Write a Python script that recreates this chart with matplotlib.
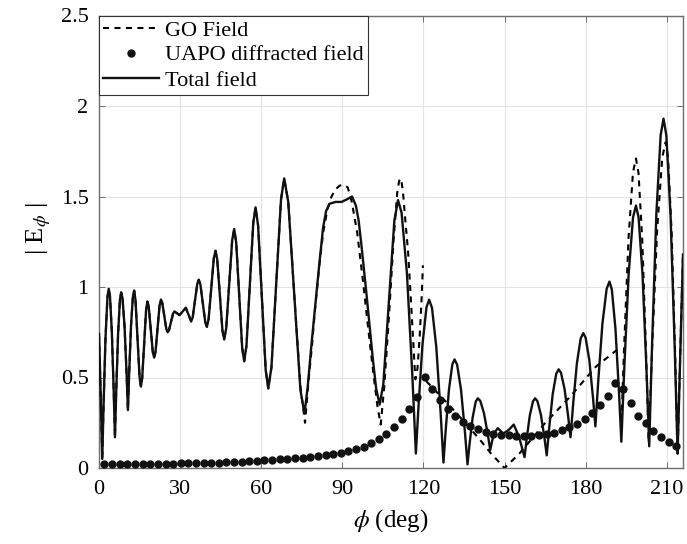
import numpy as np
import matplotlib
matplotlib.use("Agg")
import matplotlib.pyplot as plt
from matplotlib.lines import Line2D

plt.rcParams['font.family'] = ['Liberation Serif', 'DejaVu Serif']
plt.rcParams['mathtext.fontset'] = 'stix'

# ---------------- data ----------------
tot_x = [0.0, 0.6, 1.2, 1.68, 2.4, 3.12, 3.6, 4.06, 4.75, 5.44, 5.9, 6.36, 7.05, 7.74, 8.2,
         8.7, 9.45, 10.2, 10.7, 11.16, 11.85, 12.54, 13.0, 13.5, 14.25, 15.0, 15.5,
         15.98, 16.7, 17.42, 17.9, 18.4, 19.15, 19.9, 20.4, 20.9, 21.65, 22.4, 22.9,
         23.4, 24.15, 24.9, 25.4, 25.9, 26.65, 27.4, 27.9, 28.85, 29.8, 30.95, 32.1,
         33.1, 34.1, 34.66, 35.5, 36.34, 36.9, 37.5, 38.4, 39.3, 39.9, 40.54, 41.5,
         42.46, 43.1, 43.74, 44.7, 45.66, 46.3, 47.04, 48.15, 49.26, 50.0, 50.74,
         51.85, 52.96, 53.7, 54.54, 55.8, 57.06, 57.9, 58.84, 60.25, 61.66, 62.6,
         63.78, 65.55, 67.32, 68.5, 70.0, 72.25, 74.5, 76.0, 77.2, 78.5, 79.8, 81.5,
         82.9, 84.0, 85.3, 87.5, 89.7, 91.8, 93.6, 95.0, 96.0, 97.0, 98.9, 100.2,
         101.3, 102.5, 103.8, 105.16, 107.2, 109.24, 110.6, 111.92, 113.9, 115.88,
         117.2, 118.18, 119.65, 121.12, 122.1, 123.16, 124.75, 126.34, 127.4,
         128.22, 129.45, 130.68, 131.5, 132.46, 133.9, 135.34, 136.3, 137.06, 138.2,
         139.34, 140.1, 141.02, 142.4, 143.78, 144.7, 146.0, 147.5, 149.5, 151.5,
         153.4, 155.4, 157.4, 158.18, 159.35, 160.52, 161.3, 162.16, 163.45, 164.74,
         165.6, 166.48, 167.8, 169.12, 170.0, 170.88, 172.2, 173.52, 174.4, 175.34,
         176.75, 178.16, 179.1, 180.0, 181.35, 182.7, 183.6, 184.64, 186.2, 187.76,
         188.8, 189.68, 191.0, 192.32, 193.2, 194.28, 195.9, 197.52, 198.6, 199.58,
         201.05, 202.52, 203.5, 204.56, 206.15, 207.74, 208.8, 209.84, 211.4, 212.96,
         214.0, 214.6, 215.3, 216.0]
tot_y = [0.74, 0.42, 0.05, 0.341, 0.717, 0.943, 0.99, 0.949, 0.752, 0.424, 0.17, 0.418,
         0.738, 0.93, 0.97, 0.938, 0.782, 0.522, 0.32, 0.525, 0.789, 0.947, 0.98, 0.927,
         0.715, 0.503, 0.45, 0.497, 0.685, 0.873, 0.92, 0.889, 0.765, 0.641, 0.61, 0.642,
         0.77, 0.898, 0.93, 0.912, 0.84, 0.768, 0.75, 0.762, 0.808, 0.854, 0.865, 0.855,
         0.845, 0.865, 0.885, 0.848, 0.81, 0.833, 0.925, 1.017, 1.04, 1.014, 0.91, 0.806,
         0.78, 0.822, 0.99, 1.158, 1.20, 1.151, 0.955, 0.759, 0.71, 0.771, 1.015, 1.259,
         1.32, 1.247, 0.955, 0.663, 0.59, 0.675, 1.015, 1.355, 1.44, 1.34, 0.94, 0.54,
         0.44, 0.556, 1.02, 1.484, 1.60, 1.47, 0.95, 0.43, 0.30, 0.45, 0.67, 0.87, 1.13,
         1.33, 1.42, 1.46, 1.47, 1.47, 1.485, 1.50, 1.45, 1.37, 1.24, 0.965, 0.77,
         0.60, 0.44, 0.35, 0.463, 0.915, 1.367, 1.48, 1.41, 1.074, 0.514,
         0.08, 0.344, 0.684, 0.888, 0.93, 0.885, 0.669, 0.309, 0.03,
         0.207, 0.435, 0.572, 0.60, 0.571, 0.432, 0.20, 0.02, 0.133, 0.279,
         0.367, 0.385, 0.371, 0.302, 0.188, 0.10, 0.19, 0.22, 0.19, 0.21,
         0.24, 0.17, 0.06, 0.161, 0.291, 0.369, 0.385, 0.369, 0.294, 0.168,
         0.07, 0.217, 0.407, 0.521, 0.545, 0.526, 0.436, 0.286, 0.17, 0.348,
         0.578, 0.716, 0.745, 0.719, 0.596, 0.39, 0.23, 0.478, 0.798, 0.99,
         1.03, 0.986, 0.773, 0.419, 0.145, 0.55, 1.072, 1.385, 1.45, 1.384,
         1.064, 0.532, 0.12, 0.681, 1.405, 1.84, 1.93, 1.838, 1.394, 0.654,
         0.08, 0.42, 0.80, 1.18]

n_go = tot_x.index(68.5) + 1
go1_x = tot_x[:n_go] + [70.0, 72.25, 74.5, 76.2, 77.5, 78.8, 79.8, 81.5, 82.9, 84.5, 86.0,
                        87.5, 89.0, 90.6, 92.0, 93.5, 95.5, 97.5, 99.5, 101.5, 103.0,
                        104.2, 105.5, 107.3, 109.0, 110.3, 111.0, 111.4, 111.9, 112.4,
                        113.4, 114.3, 115.2, 116.1, 117.0, 117.8, 118.6, 119.3, 119.8]
go1_y = tot_y[:n_go] + [1.47, 0.95, 0.45, 0.25, 0.48, 0.68, 0.86, 1.12, 1.30, 1.43, 1.50,
                        1.54, 1.56, 1.565, 1.55, 1.47, 1.30, 1.05, 0.78, 0.52, 0.34,
                        0.24, 0.45, 0.85, 1.27, 1.52, 1.585, 1.60, 1.58, 1.53,
                        1.35, 1.20, 0.97, 0.725, 0.49, 0.55, 0.725, 0.93, 1.12]
go2_x = [121.0, 130.0, 140.7, 145.0, 150.0, 155.5, 164.8, 174.0, 183.8, 192.2]
go2_y = [0.48, 0.34, 0.16, 0.08, 0.0, 0.08, 0.245, 0.39, 0.56, 0.66]
go3_x = [193.1, 194.2, 195.85, 197.5, 198.6, 199.54, 200.95, 202.36, 203.3, 204.56,
         206.45, 208.34, 209.6, 210.48, 211.8, 213.12, 214.0, 214.6, 215.3, 216.0]
go3_y = [0.19, 0.661, 1.269, 1.634, 1.71, 1.63, 1.255, 0.627, 0.14, 0.655,
         1.319, 1.717, 1.80, 1.714, 1.301, 0.613, 0.08, 0.42, 0.80, 1.18]

uapo_x = [2.0, 4.8, 7.6, 10.5, 13.3, 16.1, 18.9, 21.7, 24.6, 27.4, 30.2, 33.0, 35.8,
          38.7, 41.5, 44.3, 47.1, 49.9, 52.8, 55.6, 58.4, 61.2, 64.0, 66.9, 69.7,
          72.5, 75.3, 78.1, 81.0, 83.8, 86.6, 89.4, 92.2, 95.1, 97.9, 100.7, 103.5,
          106.3, 109.2, 112.0, 114.8, 117.6, 120.4, 123.3, 126.1, 128.9, 131.7,
          134.5, 137.4, 140.2, 143.0, 145.8, 148.6, 151.5, 154.3, 157.1, 159.9,
          162.7, 165.6, 168.4, 171.2, 174.0, 176.8, 179.7, 182.5, 185.3, 188.1,
          190.9, 193.8, 196.6, 199.4, 202.2, 205.0, 207.9, 210.7, 213.5]
uapo_y = [0.020, 0.020, 0.020, 0.021, 0.021, 0.022, 0.022, 0.023, 0.023, 0.024, 0.025,
          0.026, 0.027, 0.028, 0.029, 0.030, 0.032, 0.033, 0.035, 0.037, 0.040, 0.042,
          0.045, 0.048, 0.051, 0.054, 0.058, 0.062, 0.067, 0.072, 0.078, 0.085, 0.094,
          0.104, 0.118, 0.137, 0.160, 0.187, 0.225, 0.270, 0.325, 0.390, 0.505, 0.435,
          0.375, 0.325, 0.287, 0.256, 0.232, 0.214, 0.200, 0.190, 0.184, 0.180, 0.178,
          0.177, 0.178, 0.182, 0.188, 0.196, 0.208, 0.225, 0.245, 0.270, 0.302, 0.348,
          0.400, 0.470, 0.437, 0.357, 0.290, 0.247, 0.204, 0.170, 0.145, 0.120]

x_ticks = [0, 30, 60, 90, 120, 150, 180, 210]
y_ticks = [0, 0.5, 1, 1.5, 2, 2.5]
y_tick_labels = ['0', '0.5', '1', '1.5', '2', '2.5']
legend_labels = ['GO Field', 'UAPO diffracted field', 'Total field']

# ---------------- figure ----------------
fig = plt.figure(figsize=(6.87, 5.44), dpi=100)
ax = fig.add_axes([99 / 687, 76 / 544, 584 / 687, 452.5 / 544])

dash = (0, (2.9, 2.6))
for gx, gy in ((go1_x, go1_y), (go2_x, go2_y), (go3_x, go3_y)):
    ax.plot(gx, gy, color='black', lw=1.5, linestyle=dash, zorder=3)
ax.plot(uapo_x, uapo_y, linestyle='none', marker='o', ms=5.0, color='#111111', zorder=4)
ax.plot(tot_x, tot_y, color='#111111', lw=1.7, zorder=5, solid_joinstyle='round')

ax.set_xlim(0, 216)
ax.set_ylim(0, 2.5)
ax.set_xticks(x_ticks)
ax.set_yticks(y_ticks)
ax.set_yticklabels(y_tick_labels)
ax.grid(True, color='#e3e3e3', lw=0.8)
ax.set_axisbelow(True)
for s in ax.spines.values():
    s.set_color('#6e6e6e')
    s.set_linewidth(1.0)
ax.tick_params(direction='in', length=4, width=0.7, color='#6e6e6e',
               top=True, right=True, labelsize=16)
ax.tick_params(axis='y', pad=7.5)
ax.tick_params(axis='x', pad=8.5)

ax.set_xlabel(r'$\phi$ (deg)', fontsize=18, labelpad=6)
ax.set_ylabel(r'| E$_{\phi}$ |', fontsize=19)
ax.yaxis.set_label_coords(-0.079, 0.53)

handles = [Line2D([], [], color='black', lw=1.5, linestyle=dash),
           Line2D([], [], color='#111111', linestyle='none', marker='o', ms=5.0),
           Line2D([], [], color='#111111', lw=1.7)]
leg = ax.legend(handles, legend_labels, loc='upper left', bbox_to_anchor=(0, 1),
                borderaxespad=0, fontsize=16, fancybox=False, framealpha=1,
                edgecolor='#333333', handlelength=2.5, handletextpad=0.27,
                labelspacing=0.2, borderpad=0.2)
leg.get_frame().set_linewidth(0.8)

fig.savefig('out.png', dpi=100)
